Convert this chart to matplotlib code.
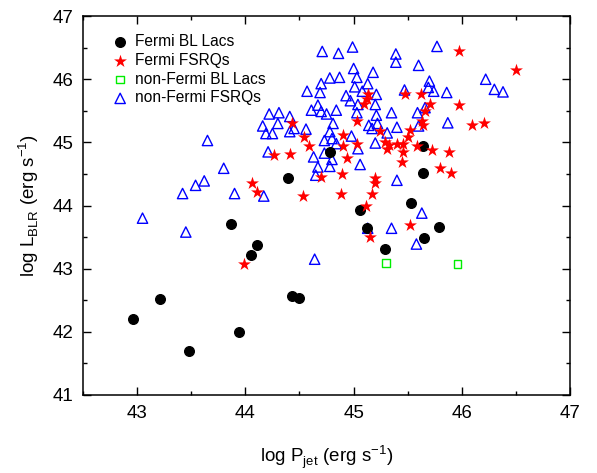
import matplotlib
matplotlib.use("Agg")
import matplotlib.pyplot as plt
from matplotlib.ticker import MultipleLocator

plt.rcParams['font.family'] = ['Liberation Sans', 'DejaVu Sans']
plt.rcParams['mathtext.fontset'] = 'custom'
plt.rcParams['mathtext.rm'] = 'Liberation Sans'

# Fermi BL Lacs
bll_x = [42.96, 43.21, 43.48, 43.94, 43.87, 44.05, 44.11, 44.39, 44.43, 44.50,
         44.78, 45.06, 45.12, 45.29, 45.53, 45.64, 45.64, 45.65, 45.79]
bll_y = [42.21, 42.52, 41.70, 42.00, 43.71, 43.21, 43.37, 44.44, 42.57, 42.53,
         44.85, 43.93, 43.64, 43.31, 44.04, 44.94, 44.52, 43.48, 43.66]

# Fermi FSRQs
fsrq_x = [43.99, 44.06, 44.11, 44.43, 44.54, 44.59, 44.90, 44.90, 44.41, 44.26,
          44.94, 44.89, 44.70, 44.53, 44.88, 45.03, 45.24, 45.29, 45.33, 45.31,
          45.40, 45.46, 45.46, 45.45, 45.52, 45.50, 45.64, 45.59, 45.72, 45.20,
          45.20, 45.17, 45.11, 45.52, 45.88, 45.80, 45.90, 45.03, 45.97, 45.13,
          45.47, 45.62, 45.10, 45.12, 45.71, 45.97, 45.66, 45.63, 46.50, 46.09,
          46.20, 45.15]
fsrq_y = [43.07, 44.35, 44.21, 45.30, 45.08, 44.94, 45.11, 44.94, 44.81, 44.80,
          44.76, 44.50, 44.45, 44.15, 44.18, 45.34, 45.18, 45.01, 44.96, 44.90,
          44.98, 44.98, 44.85, 44.69, 45.19, 45.09, 45.27, 44.94, 44.88, 44.43,
          44.36, 44.19, 43.99, 43.69, 44.84, 44.59, 44.51, 44.97, 46.44, 45.77,
          45.77, 45.76, 45.60, 45.68, 45.60, 45.59, 45.50, 45.34, 46.14, 45.27,
          45.31, 43.50]

# non-Fermi BL Lacs
nbll_x = [45.30, 45.96]
nbll_y = [43.09, 43.07]

# non-Fermi FSRQs
nfsrq_x = [43.65, 43.80, 43.54, 43.62, 43.42, 43.90, 43.05, 43.45, 44.64, 45.13,
           45.35, 45.58, 45.63, 45.40, 45.06, 45.87, 45.60, 45.40, 45.31, 45.14,
           45.22, 45.17, 45.20, 45.04, 44.98, 45.03, 45.21, 45.35, 45.59, 44.99,
           45.39, 45.39, 45.77, 45.60, 45.18, 45.03, 45.13, 45.08, 45.21, 45.47,
           45.70, 45.69, 45.74, 45.86, 45.04, 45.20, 45.66, 46.22, 46.30, 46.38,
           44.71, 44.86, 45.00, 44.78, 44.87, 44.70, 45.01, 44.57, 44.69, 44.93,
           44.97, 44.67, 44.61, 44.70, 44.75, 44.84, 44.22, 44.31, 44.41, 44.16,
           44.30, 44.19, 44.25, 44.41, 44.45, 44.56, 44.81, 44.78, 44.73, 44.80,
           44.84, 44.21, 44.63, 44.73, 44.80, 44.67, 44.78, 44.65, 44.17]
nfsrq_y = [45.03, 44.59, 44.32, 44.39, 44.19, 44.19, 43.80, 43.58, 43.15, 43.64,
           43.64, 43.39, 43.88, 44.40, 44.65, 45.31, 45.26, 45.24, 45.15, 45.27,
           45.30, 45.22, 44.99, 44.90, 45.10, 45.47, 45.43, 45.47, 45.47, 46.51,
           46.40, 46.27, 46.52, 46.22, 46.11, 46.03, 45.93, 45.81, 45.76, 45.83,
           45.97, 45.87, 45.81, 45.79, 45.60, 45.60, 45.55, 46.00, 45.84, 45.80,
           46.44, 46.41, 46.17, 46.02, 46.03, 45.93, 45.88, 45.81, 45.79, 45.74,
           45.66, 45.59, 45.51, 45.49, 45.45, 45.51, 45.45, 45.47, 45.41, 45.26,
           45.30, 45.14, 45.14, 45.17, 45.22, 45.21, 45.30, 45.17, 45.03, 45.06,
           44.98, 44.85, 44.77, 44.83, 44.73, 44.61, 44.62, 44.48, 44.15]

fig = plt.figure(figsize=(5.97, 4.73), dpi=100)
ax = fig.add_axes([0.139, 0.165, 0.816, 0.801])

ax.scatter(bll_x, bll_y, s=48, marker='o', color='black', label='Fermi BL Lacs', zorder=3)
ax.scatter(fsrq_x, fsrq_y, s=95, marker='*', color='red', linewidths=0, label='Fermi FSRQs', zorder=3)
ax.scatter(nbll_x, nbll_y, s=32, marker='s', facecolors='none', edgecolors='#00ee00',
           linewidths=1.0, label='non-Fermi BL Lacs', zorder=3)
ax.scatter(nfsrq_x, nfsrq_y, s=55, marker='^', facecolors='none', edgecolors='blue',
           linewidths=1.0, label='non-Fermi FSRQs', zorder=2)

ax.set_xlim(42.5, 47)
ax.set_ylim(41, 47)
ax.xaxis.set_major_locator(MultipleLocator(1))
ax.xaxis.set_minor_locator(MultipleLocator(0.5))
ax.yaxis.set_major_locator(MultipleLocator(1))
ax.yaxis.set_minor_locator(MultipleLocator(0.5))
ax.tick_params(which='both', direction='in', top=True, right=True, labelsize=13.5, width=1)
ax.tick_params(which='major', length=6, pad=7)
ax.tick_params(which='minor', length=3)
for sp in ax.spines.values():
    sp.set_linewidth(1.1)

ax.set_xlabel(r'log P$_{\rm jet}$ (erg s$^{-1}$)', fontsize=13.5, labelpad=16)
ax.set_ylabel(r'log L$_{\rm BLR}$ (erg s$^{-1}$)', fontsize=13.5, labelpad=8)

ax.legend(loc='upper left', bbox_to_anchor=(0.03, 0.982), frameon=False, fontsize=11.2,
          handletextpad=0.2, borderaxespad=0.3, labelspacing=0.25, handlelength=1.5,
          scatterpoints=1)

fig.savefig('out.png', dpi=100)
